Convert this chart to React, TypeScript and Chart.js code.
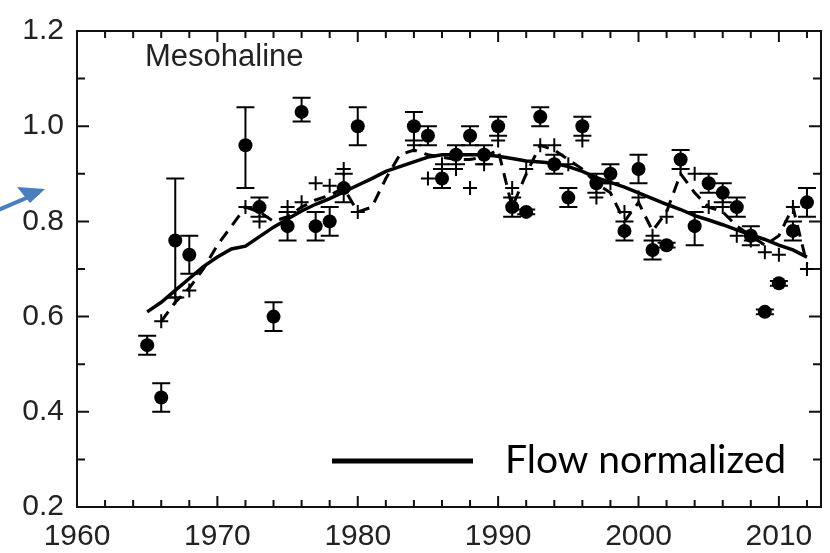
import React, { useEffect, useRef } from "react";
import { Chart, registerables } from "chart.js";

Chart.register(...registerables);

// Annual means (filled circles) with error-bar ends
const circleYears = [1965, 1966, 1967, 1968, 1972, 1973, 1974, 1975, 1976, 1977, 1978, 1979, 1980, 1984, 1985, 1986, 1987, 1988, 1989, 1990, 1991, 1992, 1993, 1994, 1995, 1996, 1997, 1998, 1999, 2000, 2001, 2002, 2003, 2004, 2005, 2006, 2007, 2008, 2009, 2010, 2011, 2012];
const circleValues = [0.54, 0.43, 0.76, 0.73, 0.96, 0.83, 0.60, 0.79, 1.03, 0.79, 0.80, 0.87, 1.00, 1.00, 0.98, 0.89, 0.94, 0.98, 0.94, 1.00, 0.83, 0.82, 1.02, 0.92, 0.85, 1.00, 0.88, 0.90, 0.78, 0.91, 0.74, 0.75, 0.93, 0.79, 0.88, 0.86, 0.83, 0.77, 0.61, 0.67, 0.78, 0.84];
const circleLow = [0.52, 0.40, 0.64, 0.69, 0.87, 0.81, 0.57, 0.76, 1.01, 0.76, 0.77, 0.84, 0.96, 0.97, 0.96, 0.87, 0.92, 0.96, 0.92, 0.98, 0.81, 0.815, 1.00, 0.90, 0.83, 0.98, 0.86, 0.88, 0.76, 0.88, 0.72, 0.745, 0.91, 0.75, 0.86, 0.84, 0.81, 0.75, 0.605, 0.665, 0.76, 0.81];
const circleHigh = [0.56, 0.46, 0.89, 0.77, 1.04, 0.85, 0.63, 0.82, 1.06, 0.82, 0.83, 0.90, 1.04, 1.03, 1.00, 0.91, 0.96, 1.00, 0.96, 1.02, 0.85, 0.825, 1.04, 0.94, 0.87, 1.02, 0.90, 0.92, 0.80, 0.94, 0.76, 0.755, 0.95, 0.82, 0.90, 0.88, 0.85, 0.79, 0.615, 0.675, 0.80, 0.87];

// Modelled annual values (+ markers)
const crossYears = [1966, 1967, 1968, 1972, 1973, 1975, 1976, 1977, 1978, 1979, 1980, 1984, 1985, 1986, 1987, 1988, 1989, 1990, 1991, 1992, 1993, 1994, 1995, 1996, 1997, 1998, 1999, 2000, 2001, 2002, 2003, 2004, 2005, 2006, 2007, 2008, 2009, 2010, 2011, 2012];
const crossValues = [0.59, 0.64, 0.655, 0.83, 0.80, 0.83, 0.84, 0.88, 0.875, 0.91, 0.82, 0.96, 0.89, 0.92, 0.91, 0.87, 0.92, 0.97, 0.87, 0.91, 0.96, 0.96, 0.92, 0.97, 0.85, 0.88, 0.82, 0.85, 0.77, 0.81, 0.91, 0.90, 0.83, 0.83, 0.77, 0.76, 0.735, 0.73, 0.83, 0.70];

// Dashed curve
const dashYears = [1966, 1967, 1968, 1969, 1970, 1971, 1972, 1973, 1974, 1975, 1976, 1977, 1978, 1979, 1980, 1981, 1982, 1983, 1984, 1985, 1986, 1987, 1988, 1989, 1990, 1991, 1992, 1993, 1994, 1995, 1996, 1997, 1998, 1999, 2000, 2001, 2002, 2003, 2004, 2005, 2006, 2007, 2008, 2009, 2010, 2011, 2012];
const dashValues = [0.59, 0.63, 0.66, 0.70, 0.75, 0.79, 0.83, 0.82, 0.80, 0.81, 0.83, 0.845, 0.855, 0.87, 0.82, 0.83, 0.89, 0.94, 0.95, 0.94, 0.935, 0.93, 0.93, 0.935, 0.95, 0.83, 0.90, 0.96, 0.95, 0.93, 0.91, 0.88, 0.86, 0.80, 0.84, 0.78, 0.82, 0.90, 0.86, 0.83, 0.82, 0.79, 0.77, 0.75, 0.77, 0.83, 0.71];

// Flow normalized (solid line)
const flowYears = [1965, 1966, 1967, 1968, 1969, 1970, 1971, 1972, 1973, 1974, 1975, 1976, 1977, 1978, 1979, 1980, 1981, 1982, 1983, 1984, 1985, 1986, 1987, 1988, 1989, 1990, 1991, 1992, 1993, 1994, 1995, 1996, 1997, 1998, 1999, 2000, 2001, 2002, 2003, 2004, 2005, 2006, 2007, 2008, 2009, 2010, 2011, 2012];
const flowValues = [0.61, 0.63, 0.655, 0.68, 0.705, 0.725, 0.742, 0.748, 0.768, 0.788, 0.805, 0.822, 0.836, 0.848, 0.862, 0.876, 0.89, 0.905, 0.915, 0.925, 0.935, 0.94, 0.94, 0.94, 0.94, 0.937, 0.932, 0.927, 0.925, 0.922, 0.915, 0.905, 0.892, 0.882, 0.872, 0.86, 0.848, 0.836, 0.825, 0.812, 0.803, 0.793, 0.782, 0.772, 0.762, 0.75, 0.74, 0.725];

const xTickLabels = [1960, 1970, 1980, 1990, 2000, 2010];
const yTickLabels = [0.2, 0.4, 0.6, 0.8, 1.0, 1.2];
const panelLabel = "Mesohaline";
const legendLabel = "Flow normalized";

const AXIS_FONT = "'Liberation Sans', Arial, sans-serif";

const decorPlugin = {
  id: "decor",
  beforeDatasetsDraw(chart: any) {
    const { ctx, scales } = chart;
    const xs = scales.x, ys = scales.y;
    ctx.save();
    ctx.strokeStyle = "#000";
    ctx.lineWidth = 2;
    circleYears.forEach((yr, i) => {
      const px = xs.getPixelForValue(yr);
      const lo = ys.getPixelForValue(circleLow[i]);
      const hi = ys.getPixelForValue(circleHigh[i]);
      ctx.beginPath();
      ctx.moveTo(px, lo);
      ctx.lineTo(px, hi);
      ctx.moveTo(px - 9, lo);
      ctx.lineTo(px + 9, lo);
      ctx.moveTo(px - 9, hi);
      ctx.lineTo(px + 9, hi);
      ctx.stroke();
    });
    ctx.restore();
  },
  afterDraw(chart: any) {
    const { ctx, scales, chartArea } = chart;
    const xs = scales.x, ys = scales.y;
    const { left, right, top, bottom } = chartArea;
    ctx.save();
    // frame
    ctx.strokeStyle = "#111";
    ctx.lineWidth = 2;
    ctx.strokeRect(left, top, right - left, bottom - top);
    // x ticks (inward, top and bottom)
    for (let v = 1962; v <= 2012; v += 2) {
      const px = xs.getPixelForValue(v);
      const len = v % 10 === 0 ? 11 : 7;
      ctx.beginPath();
      ctx.moveTo(px, bottom);
      ctx.lineTo(px, bottom - len);
      ctx.moveTo(px, top);
      ctx.lineTo(px, top + len);
      ctx.stroke();
    }
    // y ticks (inward, left and right)
    for (let k = 3; k <= 11; k++) {
      const py = ys.getPixelForValue(k / 10);
      const len = k % 2 === 0 ? 12 : 8;
      ctx.beginPath();
      ctx.moveTo(left, py);
      ctx.lineTo(left + len, py);
      ctx.moveTo(right, py);
      ctx.lineTo(right - len, py);
      ctx.stroke();
    }
    // panel label
    ctx.fillStyle = "#222";
    ctx.font = `31px ${AXIS_FONT}`;
    ctx.textAlign = "left";
    ctx.textBaseline = "alphabetic";
    ctx.fillText(panelLabel, 145, 66);
    // legend
    ctx.strokeStyle = "#000";
    ctx.lineWidth = 5;
    ctx.beginPath();
    ctx.moveTo(332, 461);
    ctx.lineTo(473, 461);
    ctx.stroke();
    ctx.fillStyle = "#000";
    ctx.font = "39px Lato, 'Open Sans', sans-serif";
    ctx.fillText(legendLabel, 505, 473);
    // blue arrow
    ctx.strokeStyle = "#4a7ebf";
    ctx.lineWidth = 4;
    ctx.lineCap = "round";
    ctx.beginPath();
    ctx.moveTo(-4, 211);
    ctx.lineTo(38, 193);
    ctx.stroke();
    ctx.fillStyle = "#4a7ebf";
    ctx.beginPath();
    ctx.moveTo(45, 189);
    ctx.lineTo(17, 187);
    ctx.lineTo(30, 203);
    ctx.closePath();
    ctx.fill();
    ctx.restore();
  },
};

export default function App() {
  const ref = useRef<HTMLCanvasElement | null>(null);
  useEffect(() => {
    document.body.style.margin = "0";
    const canvas = ref.current;
    if (!canvas) return;
    const chart = new Chart(canvas, {
      type: "scatter",
      data: {
        datasets: [
          {
            label: "circles",
            data: circleYears.map((x, i) => ({ x, y: circleValues[i] })),
            showLine: false,
            pointStyle: "circle",
            pointRadius: 7,
            backgroundColor: "#000",
            borderColor: "#000",
            borderWidth: 0,
            order: 0,
          },
          {
            label: "crosses",
            data: crossYears.map((x, i) => ({ x, y: crossValues[i] })),
            showLine: false,
            pointStyle: "cross",
            pointRadius: 7,
            borderColor: "#000",
            borderWidth: 2,
            order: 3,
          },
          {
            label: "dashed",
            data: dashYears.map((x, i) => ({ x, y: dashValues[i] })),
            showLine: true,
            pointRadius: 0,
            borderColor: "#000",
            borderWidth: 3,
            borderDash: [12, 8],
            order: 2,
          },
          {
            label: legendLabel,
            data: flowYears.map((x, i) => ({ x, y: flowValues[i] })),
            showLine: true,
            pointRadius: 0,
            borderColor: "#000",
            borderWidth: 3.5,
            order: 1,
          },
        ],
      },
      options: {
        animation: false,
        responsive: true,
        maintainAspectRatio: false,
        layout: { padding: { top: 22, right: 3, left: 0, bottom: 0 } },
        plugins: { legend: { display: false }, tooltip: { enabled: false } },
        scales: {
          x: {
            type: "linear",
            min: 1960,
            max: 2013,
            grid: { display: false, drawTicks: false },
            border: { display: false },
            ticks: {
              color: "#222",
              font: { family: AXIS_FONT, size: 30 },
              padding: 12,
              maxRotation: 0,
              callback: (v: any) => String(v),
            },
            afterBuildTicks: (s: any) => {
              s.ticks = xTickLabels.map((value) => ({ value }));
            },
            afterFit: (s: any) => {
              s.height = 46;
            },
          },
          y: {
            min: 0.2,
            max: 1.2,
            grid: { display: false, drawTicks: false },
            border: { display: false },
            ticks: {
              color: "#222",
              font: { family: AXIS_FONT, size: 30 },
              padding: 13,
              callback: (v: any) => Number(v).toFixed(1),
            },
            afterBuildTicks: (s: any) => {
              s.ticks = yTickLabels.map((value) => ({ value }));
            },
            afterFit: (s: any) => {
              s.width = 77;
            },
          },
        },
      },
      plugins: [decorPlugin],
    } as any);
    return () => chart.destroy();
  }, []);
  return (
    <div style={{ position: "relative", width: 830, height: 553 }}>
      <canvas ref={ref} />
    </div>
  );
}
